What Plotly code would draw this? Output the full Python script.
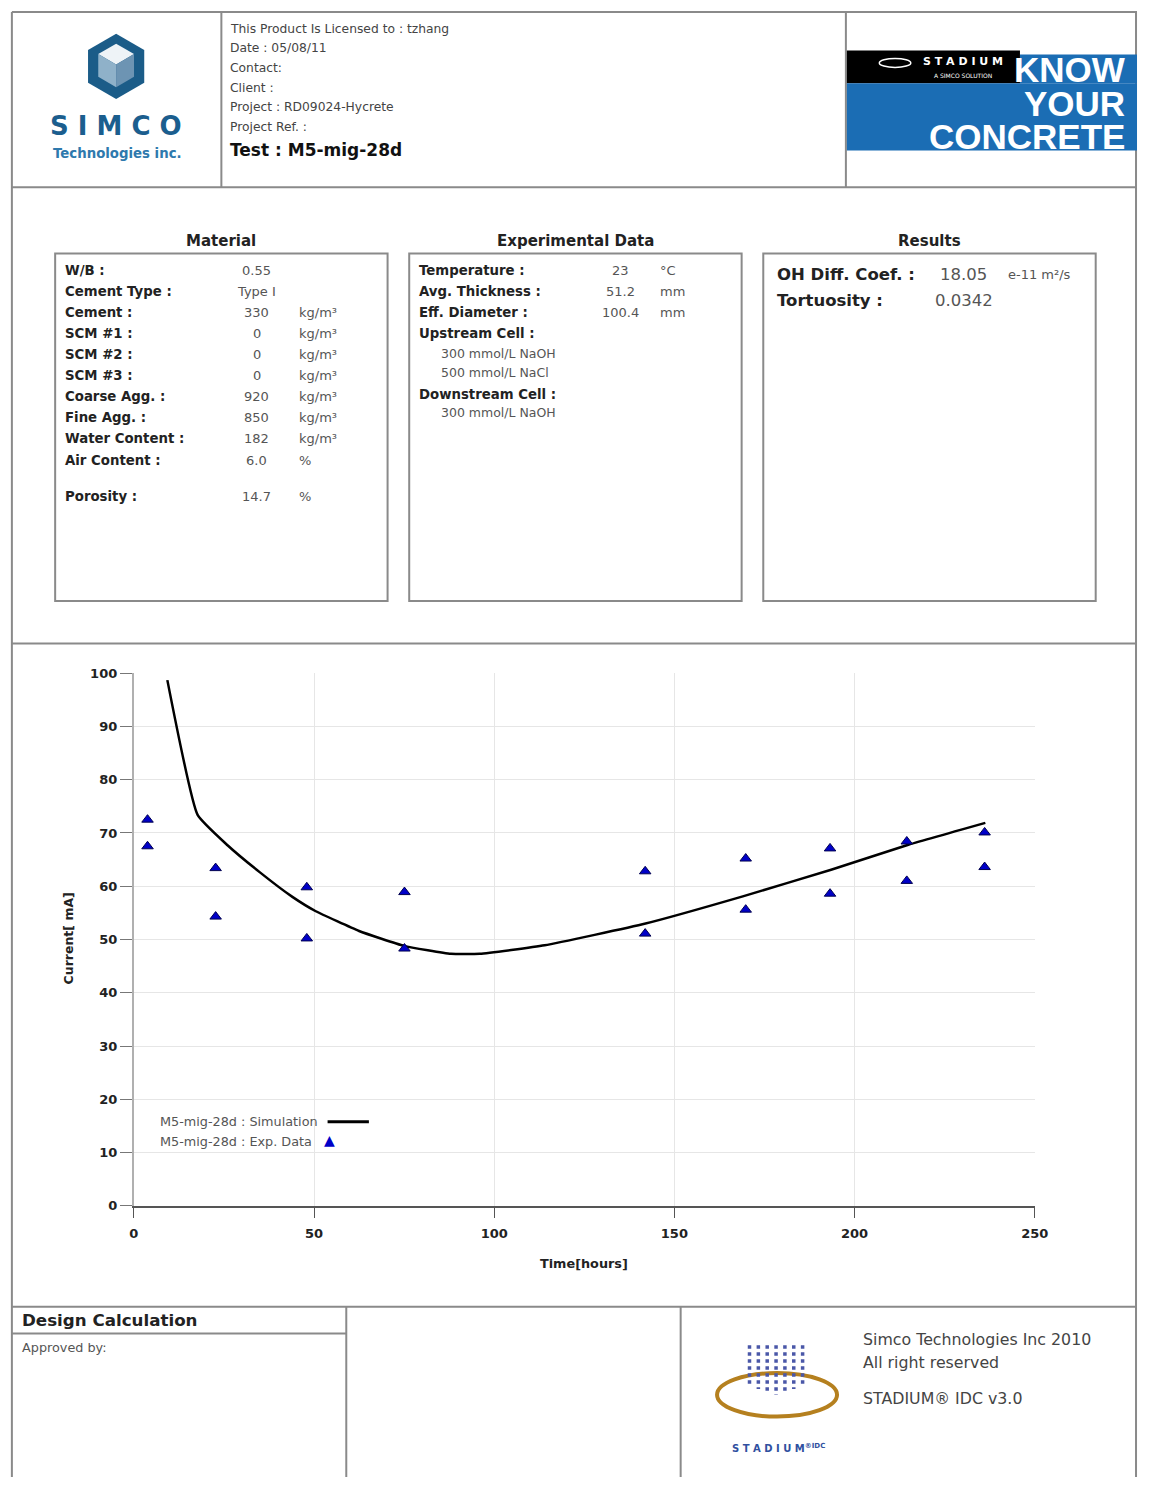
import plotly.graph_objects as go

W, H = 1151, 1485
FONT = "DejaVu Sans"


def X(p):
    return p / W


def Y(p):
    return 1 - p / H


# ---------------- data ----------------
sim_time = [9.3, 17.7, 26.0, 35.0, 44.0, 50.5, 62.5, 75.0, 88.0, 96.0, 114.0, 142.0, 169.0, 193.5, 214.5, 236.3]
sim_current = [98.7, 73.4, 67.7, 62.6, 58.0, 55.3, 51.6, 48.8, 47.3, 47.3, 48.9, 53.0, 58.1, 63.1, 67.7, 71.9]

exp_time = [3.8, 3.8, 22.7, 22.7, 48.0, 48.0, 75.1, 75.1, 141.9, 141.9,
            169.8, 169.8, 193.2, 193.2, 214.5, 214.5, 236.1, 236.1]
exp_current = [72.5, 67.5, 63.4, 54.3, 59.8, 50.2, 58.9, 48.3, 62.8, 51.1,
               65.2, 55.6, 67.1, 58.6, 68.4, 61.0, 70.1, 63.6]

x_ticks = [0, 50, 100, 150, 200, 250]
y_ticks = [0, 10, 20, 30, 40, 50, 60, 70, 80, 90, 100]

header_lines = ["This Product Is Licensed to : tzhang", "Date : 05/08/11", "Contact:",
                "Client :", "Project : RD09024-Hycrete", "Project Ref. :"]
test_name = "Test : M5-mig-28d"

material_labels = ["W/B :", "Cement Type :", "Cement :", "SCM #1 :", "SCM #2 :", "SCM #3 :",
                   "Coarse Agg. :", "Fine Agg. :", "Water Content :", "Air Content :", "Porosity :"]
material_values = ["0.55", "Type I", "330", "0", "0", "0", "920", "850", "182", "6.0", "14.7"]
material_units = ["", "", "kg/m³", "kg/m³", "kg/m³", "kg/m³", "kg/m³", "kg/m³", "kg/m³", "%", "%"]

exp_labels = ["Temperature :", "Avg. Thickness :", "Eff. Diameter :"]
exp_values = ["23", "51.2", "100.4"]
exp_units = ["°C", "mm", "mm"]
upstream = ["300 mmol/L NaOH", "500 mmol/L NaCl"]
downstream = ["300 mmol/L NaOH"]

result_labels = ["OH Diff. Coef. :", "Tortuosity :"]
result_values = ["18.05", "0.0342"]
result_units = ["e-11 m²/s", ""]

sim_name = "M5-mig-28d : Simulation"
exp_name = "M5-mig-28d : Exp. Data"

# ---------------- figure ----------------
fig = go.Figure()
fig.add_trace(go.Scatter(x=sim_time, y=sim_current, mode="lines",
                         line=dict(color="black", width=2.5, shape="spline", smoothing=0.4),
                         name=sim_name, showlegend=False))
fig.add_trace(go.Scatter(x=exp_time, y=exp_current, mode="markers",
                         marker=dict(symbol="triangle-up", size=10, color="#0000c8",
                                     line=dict(color="#000050", width=1)),
                         name=exp_name, showlegend=False))

shapes = []
annotations = []


def line(x0, y0, x1, y1, color="#8a8a8a", width=2):
    shapes.append(dict(type="line", xref="paper", yref="paper",
                       x0=X(x0), y0=Y(y0), x1=X(x1), y1=Y(y1),
                       line=dict(color=color, width=width), layer="above"))


def rect(x0, y0, x1, y1, fill=None, color="#8a8a8a", width=2):
    d = dict(type="rect", xref="paper", yref="paper",
             x0=X(x0), y0=Y(y0), x1=X(x1), y1=Y(y1), layer="above",
             line=dict(color=color, width=width))
    if fill:
        d["fillcolor"] = fill
    shapes.append(d)


def path(points, fill, color=None, width=0):
    s = "M " + " L ".join(f"{X(a):.5f},{Y(b):.5f}" for a, b in points) + " Z"
    shapes.append(dict(type="path", xref="paper", yref="paper", path=s,
                       fillcolor=fill, line=dict(color=color or fill, width=width),
                       layer="above"))


def text(t, x, y, size=11, color="#444", bold=False, xanchor="left", yanchor="middle",
         family=FONT, angle=0):
    if bold:
        t = f"<b>{t}</b>"
    annotations.append(dict(text=t, x=X(x), y=Y(y), xref="paper", yref="paper",
                            showarrow=False, xanchor=xanchor, yanchor=yanchor,
                            textangle=angle,
                            font=dict(family=family, size=size, color=color)))


# page frame
line(7, 5, 1151, 5)
line(7, 5, 7, 1485)
line(1150, 5, 1150, 1485)
line(220, 5, 220, 182)
line(855, 5, 855, 182)
line(7, 182, 1151, 182)
line(7, 643, 1151, 643)
line(7, 1313, 1151, 1313)
line(347, 1313, 347, 1485)
line(687, 1313, 687, 1485)
line(7, 1340, 347, 1340)

# SIMCO logo
cx, cy, r = 113, 60, 33
hexa = [(cx, cy - r), (cx + 0.866 * r, cy - r / 2), (cx + 0.866 * r, cy + r / 2),
        (cx, cy + r), (cx - 0.866 * r, cy + r / 2), (cx - 0.866 * r, cy - r / 2)]
path(hexa, "#1b5c88")
r2 = 21
top = [(cx, cy - r2 - 2), (cx + 0.866 * r2, cy - r2 / 2 - 2), (cx, cy - 2), (cx - 0.866 * r2, cy - r2 / 2 - 2)]
path(top, "#eef3f7")
left = [(cx - 0.866 * r2, cy - r2 / 2 - 2), (cx, cy - 2), (cx, cy + r2), (cx - 0.866 * r2, cy + r2 / 2)]
path(left, "#8fb1c9")
right = [(cx, cy - 2), (cx + 0.866 * r2, cy - r2 / 2 - 2), (cx + 0.866 * r2, cy + r2 / 2), (cx, cy + r2)]
path(right, "#6d94b3")
text("S I M C O", 113, 120, size=26, color="#1b5e8e", bold=True, xanchor="center")
text("Technologies inc.", 114, 148, size=13.3, color="#2e79ad", bold=True, xanchor="center")

# header text
for i, t in enumerate(header_lines):
    text(t, 227, 22 + i * 19.8, size=12.3, color="#444")
text(test_name, 227, 144, size=17, color="#111", bold=True)

# STADIUM / KNOW YOUR CONCRETE logo
rect(856, 44, 1032, 77, fill="#000000", color="#000000", width=0)
rect(856, 77, 1151, 145, fill="#1b6db4", color="#1b6db4", width=0)
rect(1032, 48, 1151, 77, fill="#1b6db4", color="#1b6db4", width=0)
shapes.append(dict(type="circle", xref="paper", yref="paper", x0=X(889), x1=X(921),
                   y0=Y(52), y1=Y(61), line=dict(color="white", width=1.5), layer="above"))
text("S T A D I U M", 974, 55, size=11, color="white", bold=True, xanchor="center")
text("A SIMCO SOLUTION", 974, 69, size=6, color="white", xanchor="center")
for i, t in enumerate(["KNOW", "YOUR", "CONCRETE"]):
    text(t, 1141, 63 + i * 34, size=35, color="white", bold=True, xanchor="right",
         family="Liberation Sans")

# section titles and boxes
box_x = [(51, 389), (411, 749), (771, 1109)]
for (a, b), t in zip(box_x, ["Material", "Experimental Data", "Results"]):
    text(t, (a + b) / 2, 236, size=15, color="#222", bold=True, xanchor="center")
    rect(a, 249, b, 600, color="#8a8a8a", width=2)

LBL, VAL = 13.3, 13
# material
for i, (lab, val, unit) in enumerate(zip(material_labels, material_values, material_units)):
    yy = 266 + i * 21.3 + (15 if i == len(material_labels) - 1 else 0)
    text(lab, 59, yy, size=LBL, color="#222", bold=True)
    text(val, 256, yy, size=VAL, color="#555", xanchor="center")
    if unit:
        text(unit, 297, yy, size=VAL, color="#555")

# experimental data
for i, (lab, val, unit) in enumerate(zip(exp_labels, exp_values, exp_units)):
    yy = 266 + i * 21.3
    text(lab, 419, yy, size=LBL, color="#222", bold=True)
    text(val, 626, yy, size=VAL, color="#555", xanchor="center")
    text(unit, 664, yy, size=VAL, color="#555")
text("Upstream Cell :", 419, 330, size=LBL, color="#222", bold=True)
for i, t in enumerate(upstream):
    text(t, 441, 350 + i * 19.5, size=12.5, color="#555")
text("Downstream Cell :", 419, 391, size=LBL, color="#222", bold=True)
for i, t in enumerate(downstream):
    text(t, 441, 410 + i * 19.5, size=12.5, color="#555")

# results
for i, (lab, val, unit) in enumerate(zip(result_labels, result_values, result_units)):
    yy = 270 + i * 27
    text(lab, 783, yy, size=16.5, color="#222", bold=True)
    text(val, 975, yy, size=16.5, color="#555", xanchor="center")
    if unit:
        text(unit, 1018, yy, size=13, color="#555")

# chart titles & legend
text("Current[ mA]", 65, 941, size=12.5, color="#222", bold=True, xanchor="center", angle=-90)
text("Time[hours]", 589, 1269, size=12.8, color="#222", bold=True, xanchor="center")
text(sim_name, 156, 1126, size=12.8, color="#555")
text(exp_name, 156, 1146, size=12.8, color="#555")
line(328, 1126, 370, 1126, color="black", width=3)
text("▲", 330, 1145, size=14, color="#0000c8", xanchor="center")

# bottom section
text("Design Calculation", 15, 1326, size=16.7, color="#222", bold=True)
text("Approved by:", 15, 1354, size=12.8, color="#555")
text("Simco Technologies Inc 2010", 870, 1346, size=15.8, color="#444")
text("All right reserved", 870, 1369, size=15.8, color="#444")
text("STADIUM® IDC v3.0", 870, 1406, size=15.8, color="#444")

# STADIUM IDC logo
shapes.append(dict(type="circle", xref="paper", yref="paper", x0=X(724), x1=X(846),
                   y0=Y(1380), y1=Y(1424), line=dict(color="#b5801f", width=4), layer="above"))
for k, xx in enumerate([757, 766, 775, 784, 793, 802, 811]):
    shapes.append(dict(type="line", xref="paper", yref="paper", x0=X(xx), x1=X(xx),
                       y0=Y(1352), y1=Y(1402 - abs(k - 3) * 3),
                       line=dict(color="#4a57a8", width=3.5, dash="dot"), layer="above"))
text("S T A D I U M<sup>®IDC</sup>", 786, 1456, size=10, color="#3050a0", bold=True, xanchor="center")

tickfont = dict(family=FONT, size=13, color="#222", weight="bold")
fig.update_layout(
    width=W, height=H,
    margin=dict(l=0, r=0, t=0, b=0, pad=0),
    paper_bgcolor="white", plot_bgcolor="white",
    showlegend=False,
    shapes=shapes, annotations=annotations,
    xaxis=dict(domain=[X(131), X(1047)], range=[0, 250], tickvals=x_ticks,
               showgrid=True, gridcolor="#e6e6e6", gridwidth=1, zeroline=False,
               showline=True, linecolor="#555", linewidth=1.5,
               ticks="outside", ticklen=10, tickcolor="#555", ticklabelstandoff=5,
               tickfont=tickfont, fixedrange=True),
    yaxis=dict(domain=[Y(1211), Y(673)], range=[0, 100], tickvals=y_ticks,
               showgrid=True, gridcolor="#e6e6e6", gridwidth=1, zeroline=False,
               showline=True, linecolor="#b0b0b0", linewidth=2,
               ticks="outside", ticklen=12, tickcolor="#777",
               tickfont=tickfont, fixedrange=True),
)

fig.write_html("out.html", config={"displayModeBar": False},
               post_script="document.body.style.margin='0';document.body.style.overflow='hidden';")
